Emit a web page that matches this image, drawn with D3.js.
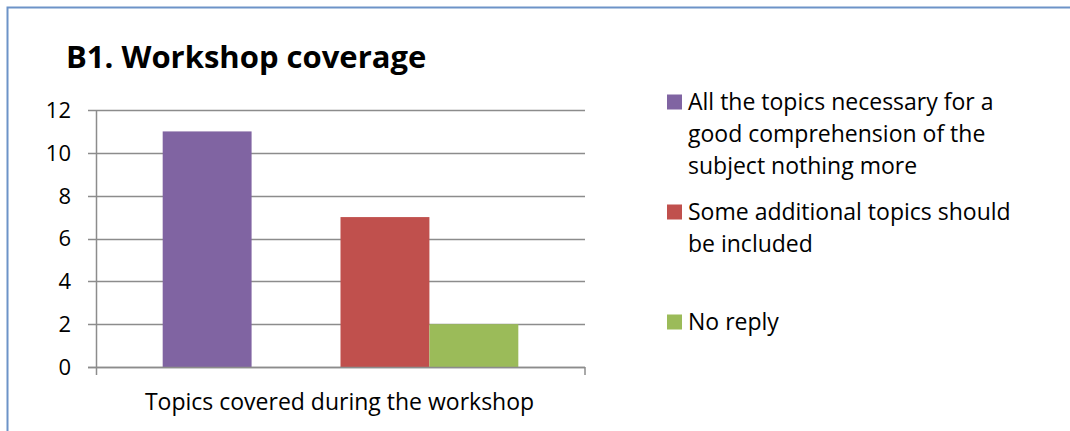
<!DOCTYPE html>
<html>
<head>
<meta charset="utf-8">
<script src="https://cdn.jsdelivr.net/npm/d3@7"></script>
<style>
  body { margin: 0; background: #fff; }
  svg { display: block; font-family: "Open Sans", Lato, sans-serif; }
</style>
</head>
<body>
<div id="canvas"></div>
<script>
// chart data
var category = "Topics covered during the workshop";
// one slot stays empty in the original chart (hidden series)
var seriesNames = [
  "All the topics necessary for a good comprehension of the subject nothing more",
  "",
  "Some additional topics should be included",
  "No reply"
];
var seriesValues = [11, null, 7, 2];
var seriesColors = ["#8064A2", "#ffffff", "#C0504D", "#9BBB59"];
var legendLines = [
  ["All the topics necessary for a", "good comprehension of the", "subject nothing more"],
  ["Some additional topics should", "be included"],
  ["No reply"]
];
var legendColors = ["#8064A2", "#C0504D", "#9BBB59"];
var yTicks = [0, 2, 4, 6, 8, 10, 12];

var width = 1070, height = 431;

function drawChart() {
  var svg = d3.select("#canvas")
    .append("svg")
    .attr("width", width)
    .attr("height", height);

  // frame (only top and left edges are visible)
  svg.append("path")
    .attr("d", "M7.5,431 L7.5,7.5 L1070,7.5")
    .attr("fill", "none")
    .attr("stroke", "#6d93c8")
    .attr("stroke-width", 2);

  // title
  svg.append("text")
    .attr("x", 66)
    .attr("y", 68)
    .style("font-size", "31px")
    .style("font-weight", "bold")
    .text("B1. Workshop coverage");

  var plot = {left: 96, right: 585, top: 110, bottom: 367};

  var y = d3.scaleLinear().domain([0, 12]).range([plot.bottom, plot.top]);

  var x = d3.scaleBand()
    .domain(d3.range(seriesNames.length))
    .range([plot.left, plot.right])
    .paddingInner(0)
    .paddingOuter(0.75);

  // gridlines with left ticks
  svg.append("g")
    .selectAll("line")
    .data(yTicks)
    .join("line")
    .attr("x1", plot.left - 8)
    .attr("x2", plot.right)
    .attr("y1", d => Math.round(y(d)) + 0.5)
    .attr("y2", d => Math.round(y(d)) + 0.5)
    .attr("stroke", "#8c8c8c")
    .attr("stroke-width", 1.5);

  // y tick labels
  svg.append("g")
    .selectAll("text")
    .data(yTicks)
    .join("text")
    .attr("x", 71)
    .attr("y", d => y(d))
    .attr("dy", "0.36em")
    .attr("text-anchor", "end")
    .style("font-size", "22px")
    .text(d => d);

  // bars
  svg.append("g")
    .selectAll("rect")
    .data(seriesValues.map((v, i) => ({v: v, i: i})).filter(d => d.v != null))
    .join("rect")
    .attr("x", d => x(d.i))
    .attr("width", x.bandwidth())
    .attr("y", d => y(d.v))
    .attr("height", d => y(0) - y(d.v))
    .attr("fill", d => seriesColors[d.i]);

  // axes
  svg.append("line")
    .attr("x1", plot.left + 0.5).attr("x2", plot.left + 0.5)
    .attr("y1", plot.top).attr("y2", plot.bottom + 8)
    .attr("stroke", "#8c8c8c").attr("stroke-width", 1.5);
  svg.append("line")
    .attr("x1", plot.left - 8).attr("x2", plot.right)
    .attr("y1", plot.bottom + 0.5).attr("y2", plot.bottom + 0.5)
    .attr("stroke", "#8c8c8c").attr("stroke-width", 1.5);
  svg.append("line")
    .attr("x1", plot.right).attr("x2", plot.right)
    .attr("y1", plot.bottom).attr("y2", plot.bottom + 8)
    .attr("stroke", "#8c8c8c").attr("stroke-width", 1.5);

  // category label
  svg.append("text")
    .attr("x", (plot.left + plot.right) / 2 - 1)
    .attr("y", 410)
    .attr("text-anchor", "middle")
    .style("font-size", "23px")
    .text(category);

  // legend
  var legend = svg.append("g");
  legendLines.forEach(function(lines, i) {
    var cy = 102 + i * 110;
    legend.append("rect")
      .attr("x", 667).attr("y", cy - 7.5)
      .attr("width", 15).attr("height", 15)
      .attr("fill", legendColors[i]);
    lines.forEach(function(t, j) {
      legend.append("text")
        .attr("x", 688)
        .attr("y", cy + 8 + j * 32)
        .style("font-size", "23px")
        .text(t);
    });
  });
}

drawChart();
</script>
</body>
</html>
